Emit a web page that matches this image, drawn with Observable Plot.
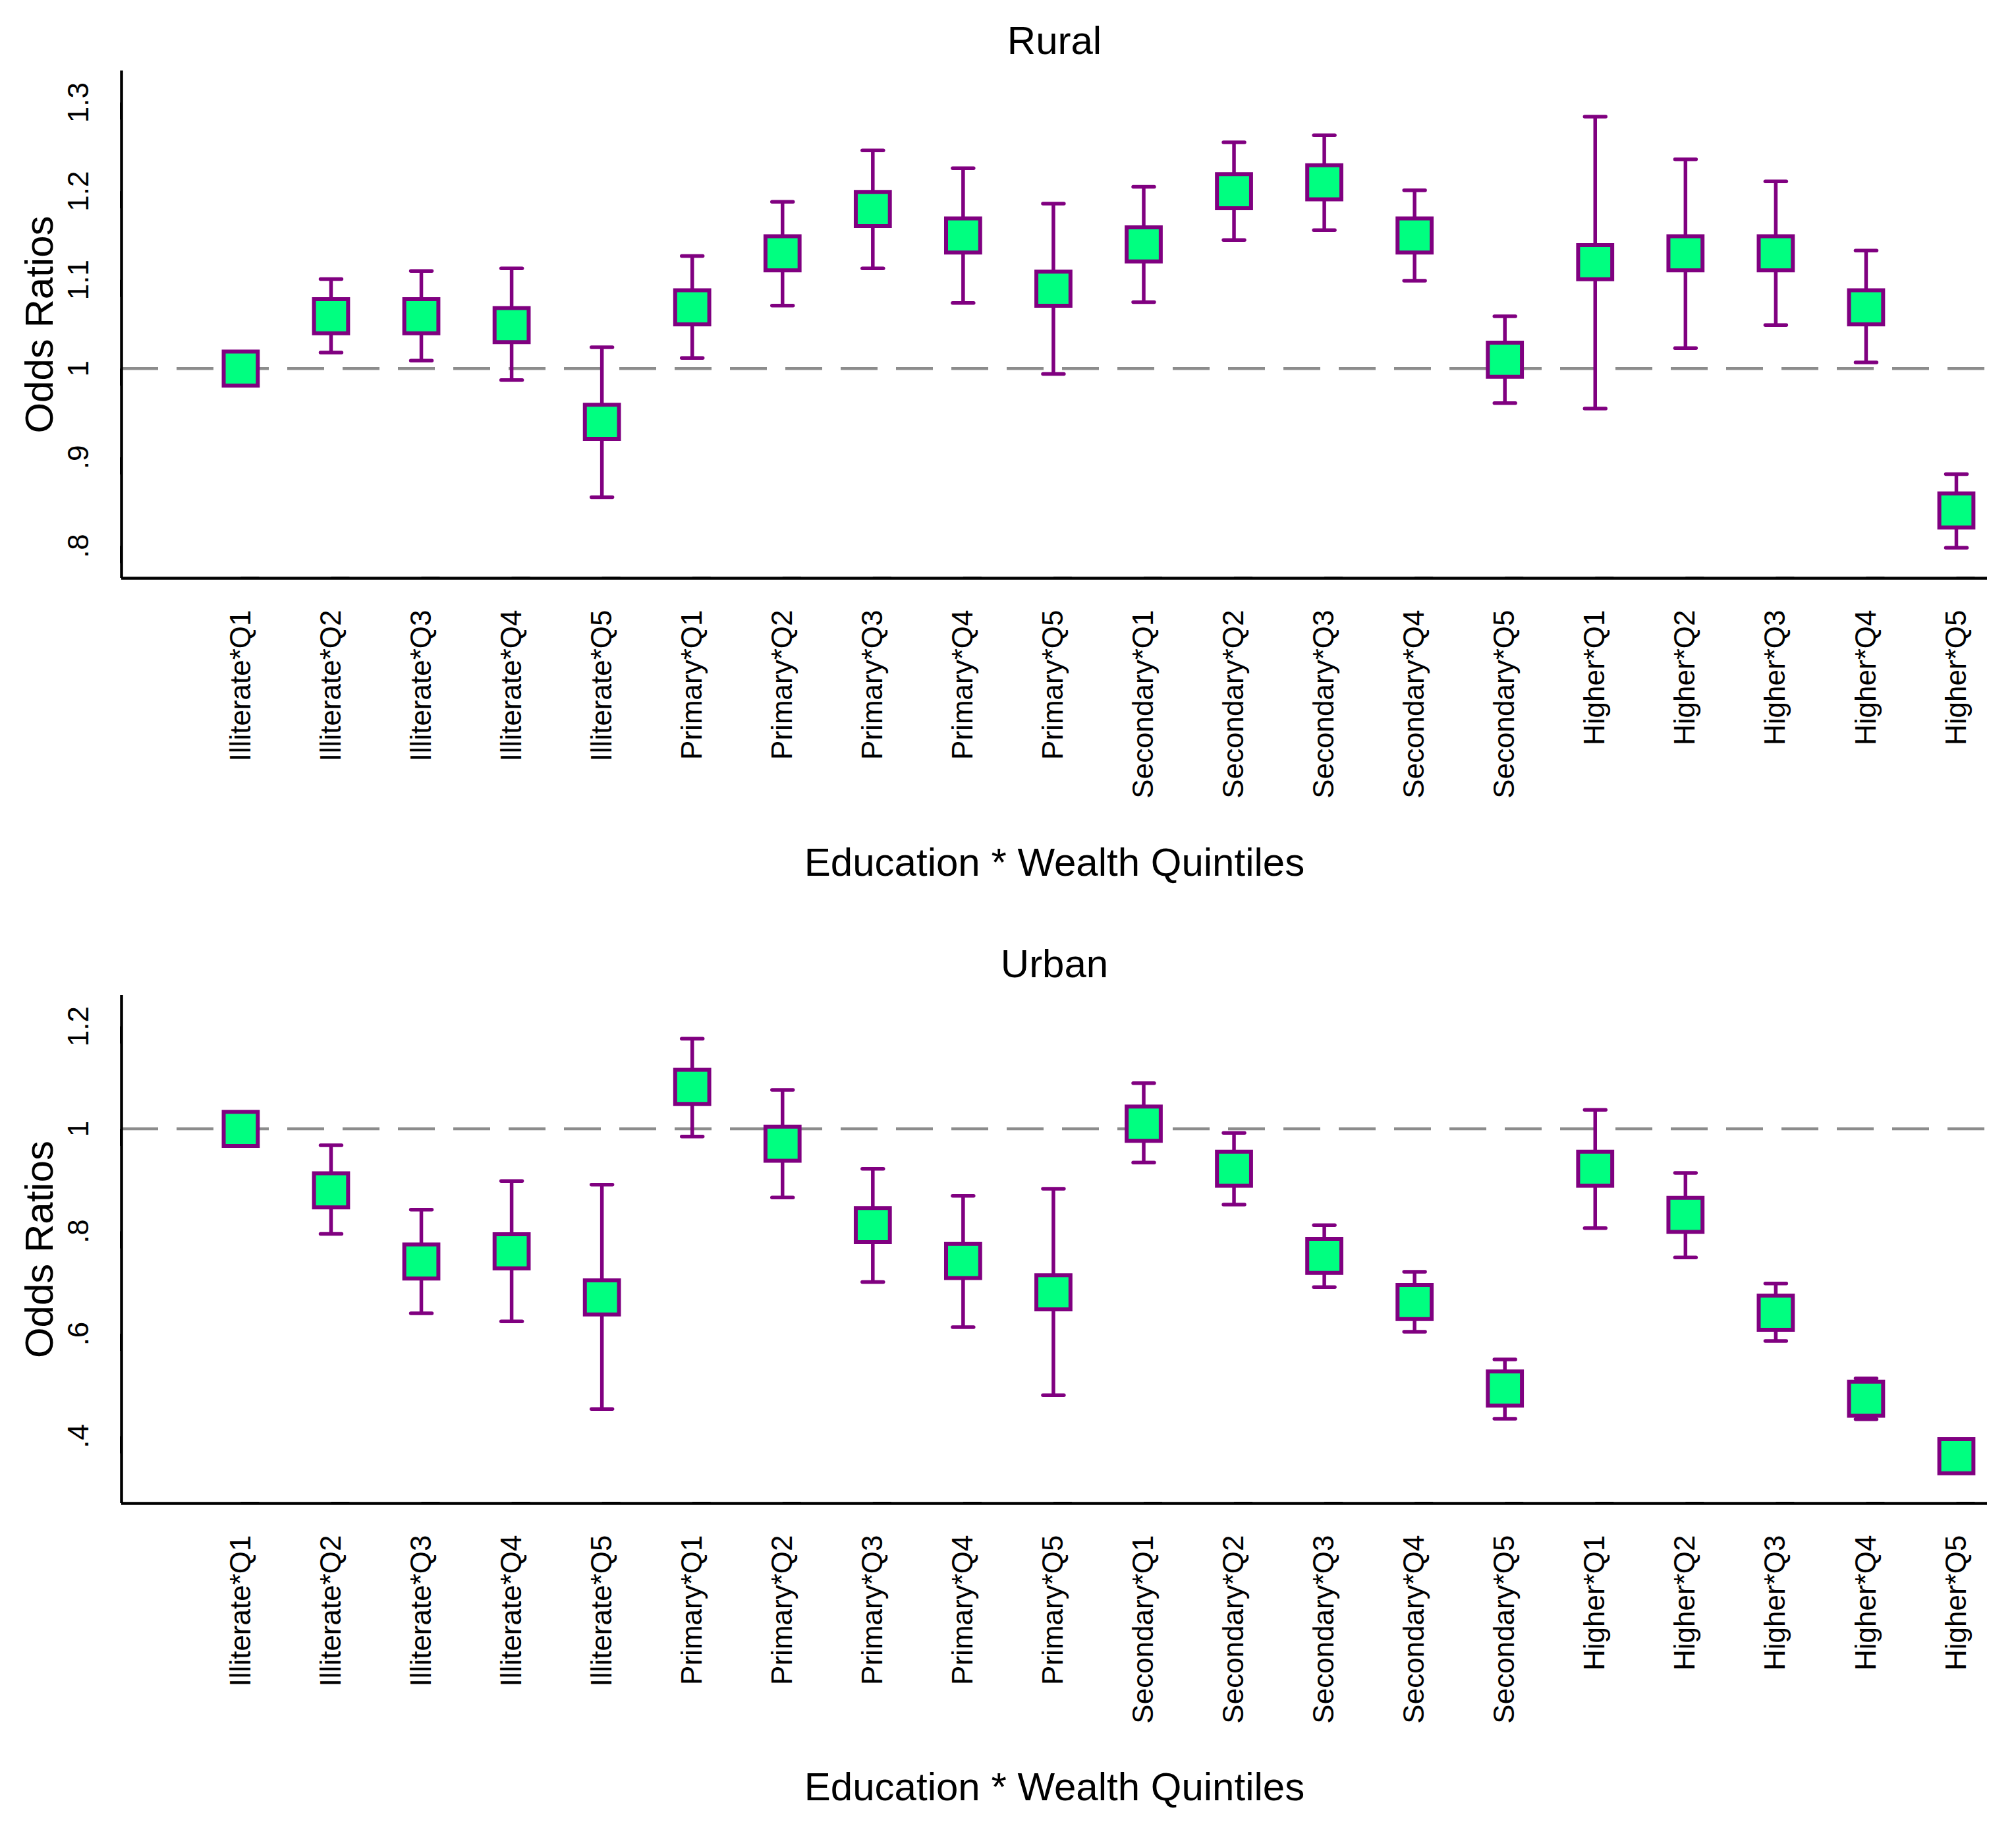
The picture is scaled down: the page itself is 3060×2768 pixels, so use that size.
<!DOCTYPE html>
<html>
<head>
<meta charset="utf-8">
<script src="https://cdn.jsdelivr.net/npm/d3@7"></script>
<script src="https://cdn.jsdelivr.net/npm/@observablehq/plot@0.6"></script>
<style>
  html, body { margin: 0; padding: 0; background: #ffffff; }
  #chart svg { display: block; }
</style>
</head>
<body>
<div id="chart"></div>
<script>
const categories = [
  "Illiterate*Q1","Illiterate*Q2","Illiterate*Q3","Illiterate*Q4","Illiterate*Q5",
  "Primary*Q1","Primary*Q2","Primary*Q3","Primary*Q4","Primary*Q5",
  "Secondary*Q1","Secondary*Q2","Secondary*Q3","Secondary*Q4","Secondary*Q5",
  "Higher*Q1","Higher*Q2","Higher*Q3","Higher*Q4","Higher*Q5"
];

const ruralOR = [1.000,1.059,1.059,1.049,0.940,1.069,1.130,1.180,1.150,1.090,1.140,1.200,1.210,1.150,1.010,1.120,1.130,1.130,1.069,0.840];
const ruralLo = [1.000,1.018,1.009,0.987,0.855,1.012,1.071,1.113,1.074,0.994,1.075,1.145,1.156,1.099,0.961,0.955,1.023,1.049,1.007,0.798];
const ruralHi = [1.000,1.101,1.110,1.113,1.024,1.127,1.188,1.246,1.226,1.186,1.205,1.255,1.263,1.201,1.059,1.284,1.236,1.211,1.133,0.881];

const urbanOR = [1.000,0.880,0.741,0.761,0.671,1.082,0.971,0.812,0.742,0.681,1.010,0.922,0.752,0.662,0.493,0.922,0.832,0.641,0.473,0.361];
const urbanLo = [1.000,0.795,0.640,0.624,0.453,0.985,0.866,0.701,0.613,0.480,0.934,0.852,0.691,0.604,0.434,0.806,0.749,0.586,0.433,0.345];
const urbanHi = [1.000,0.968,0.842,0.898,0.891,1.176,1.076,0.922,0.869,0.883,1.089,0.992,0.812,0.721,0.550,1.037,0.914,0.698,0.513,0.378];

const ruralTicks = [0.8, 0.9, 1, 1.1, 1.2, 1.3];
const ruralTickLabels = [".8", ".9", "1", "1.1", "1.2", "1.3"];
const urbanTicks = [0.4, 0.6, 0.8, 1, 1.2];
const urbanTickLabels = [".4", ".6", ".8", "1", "1.2"];

const yTitle = "Odds Ratios";
const xTitle = "Education * Wealth Quintiles";

const purple = "#800080";
const green = "#00ff80";
const xDomain = [-0.32, 20.343];

const boxSymbol = { draw(ctx, size) { const s = Math.sqrt(size); ctx.rect(-s / 2, -s / 2, s, s); } };
const capSymbol = { draw(ctx, size) { const w = Math.sqrt(size); ctx.moveTo(-w / 2, 0); ctx.lineTo(w / 2, 0); } };

function panel(o) {
  const data = categories.map((c, k) => ({ pos: k + 1, or: o.or[k], lo: o.lo[k], hi: o.hi[k] }));
  return Plot.plot({
    width: 3060,
    height: o.height,
    marginLeft: 184,
    marginRight: 44,
    marginTop: o.marginTop,
    marginBottom: o.marginBottom,
    style: { fontFamily: "'Liberation Sans', Arial, sans-serif", color: "black", background: "white", overflow: "visible" },
    x: { domain: xDomain },
    y: { domain: o.yDomain },
    marks: [
      Plot.ruleY([1], { stroke: "#8c8c8c", strokeWidth: 4.5, strokeDasharray: "56,28" }),
      Plot.ruleX(data, { x: "pos", y1: "lo", y2: "hi", stroke: purple, strokeWidth: 5.5 }),
      Plot.dot(data, { x: "pos", y: "lo", symbol: capSymbol, r: 18, fill: "none", stroke: purple, strokeWidth: 5.5, strokeLinecap: "round" }),
      Plot.dot(data, { x: "pos", y: "hi", symbol: capSymbol, r: 18, fill: "none", stroke: purple, strokeWidth: 5.5, strokeLinecap: "round" }),
      Plot.dot(data, { x: "pos", y: "or", symbol: boxSymbol, r: 29.2, fill: green, fillOpacity: 1, stroke: purple, strokeWidth: 6 }),
      Plot.axisY({
        ticks: o.yTicks,
        tickFormat: d => o.yTickLabels[o.yTicks.indexOf(d)],
        tickSize: 26, tickPadding: 39, strokeWidth: 4, fontSize: 44,
        rotate: -90, textAnchor: "middle", lineAnchor: "middle", label: null
      }),
      Plot.axisX({
        ticks: d3.range(1, 21),
        tickFormat: d => categories[d - 1],
        tickSize: 28, tickPadding: 20, strokeWidth: 4, fontSize: 44,
        rotate: -90, textAnchor: "end", lineAnchor: "middle", label: null
      }),
      Plot.ruleX([xDomain[0]], { strokeWidth: 4.5, stroke: "black" }),
      Plot.ruleY([o.yDomain[0]], { strokeWidth: 4.5, stroke: "black" }),
      Plot.text([o.title], { text: d => d, frameAnchor: "top", textAnchor: "middle", lineAnchor: "middle", dy: o.titleDy, fontSize: 60, fill: "black" }),
      Plot.text([yTitle], { text: d => d, frameAnchor: "left", textAnchor: "middle", lineAnchor: "middle", dx: -124, rotate: -90, fontSize: 60, fill: "black" }),
      Plot.text([xTitle], { text: d => d, frameAnchor: "bottom", textAnchor: "middle", lineAnchor: "middle", dy: o.xTitleDy, fontSize: 60, fill: "black" })
    ]
  });
}

const chart = document.getElementById("chart");
chart.appendChild(panel({
  title: "Rural", or: ruralOR, lo: ruralLo, hi: ruralHi,
  yDomain: [0.7636, 1.3357], yTicks: ruralTicks, yTickLabels: ruralTickLabels,
  height: 1385, marginTop: 107, marginBottom: 508, titleDy: -45, xTitleDy: 432
}));
chart.appendChild(panel({
  title: "Urban", or: urbanOR, lo: urbanLo, hi: urbanHi,
  yDomain: [0.2688, 1.2605], yTicks: urbanTicks, yTickLabels: urbanTickLabels,
  height: 1383, marginTop: 125, marginBottom: 487, titleDy: -47, xTitleDy: 431
}));
</script>
</body>
</html>
